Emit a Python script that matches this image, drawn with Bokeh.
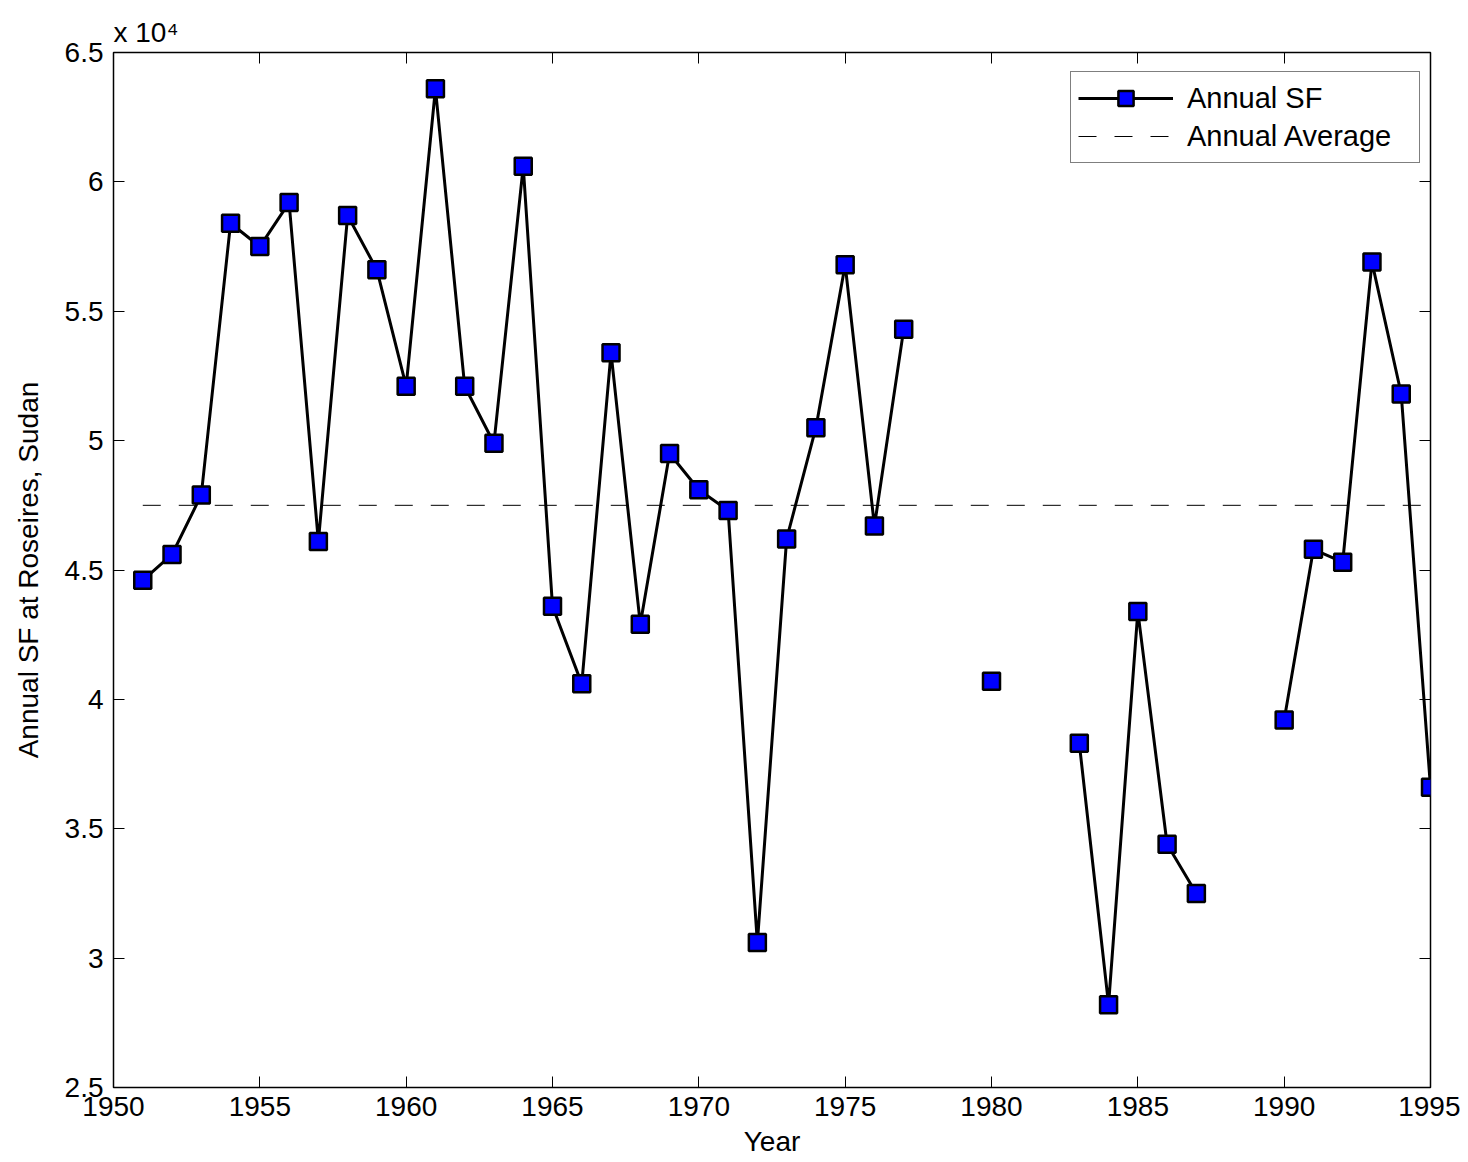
import math
from bokeh.plotting import figure
from bokeh.models import (Range1d, FixedTicker, LinearAxis, CustomJSTickFormatter,
                          Legend, LegendItem)
from bokeh.embed import file_html
from bokeh.resources import INLINE

nan = float("nan")

# ---- data ----
years = list(range(1951, 1996))
annual_sf = [44600, 45600, 47900, 58400, 57500, 59200, 46100, 58700, 56600, 52100,
             63600, 52100, 49900, 60600, 43600, 40600, 53400, 42900, 49500, 48100,
             47300, 30600, 46200, 50500, 56800, 46700, 54300, nan, nan, 40700,
             nan, nan, 38300, 28200, 43400, 34400, 32500, nan, nan, 39200,
             45800, 45300, 56900, 51800, 36600]
annual_average = 47500
avg_years = [1951, 1995]
avg_values = [annual_average, annual_average]

x_ticks = [1950, 1955, 1960, 1965, 1970, 1975, 1980, 1985, 1990, 1995]
y_ticks = [25000, 30000, 35000, 40000, 45000, 50000, 55000, 60000, 65000]

FONT = "Liberation Sans"
FS = "28px"

p = figure(width=1460, height=1160, output_backend="svg", toolbar_location=None,
           x_range=Range1d(1950, 1995), y_range=Range1d(25000, 65000),
           min_border_left=113, min_border_right=30, min_border_top=52, min_border_bottom=73)
p.background_fill_color = "white"
p.border_fill_color = "white"
p.outline_line_color = "black"
p.outline_line_width = 1.5
p.grid.visible = False

p.title.text = "x 10\u2074"
p.title.align = "left"
p.title.text_font = FONT
p.title.text_font_size = FS
p.title.text_font_style = "normal"
p.title.text_color = "black"
p.title.standoff = 10
p.title.offset = 0

yfmt = CustomJSTickFormatter(code="return String(Math.round(tick/1000)/10);")
blank = CustomJSTickFormatter(code="return '';")

for ax, tk, fmt in ((p.xaxis[0], x_ticks, None), (p.yaxis[0], y_ticks, yfmt)):
    ax.ticker = FixedTicker(ticks=tk)
    if fmt is not None:
        ax.formatter = fmt
    ax.major_tick_in = 11
    ax.major_tick_out = 0
    ax.minor_tick_in = 0
    ax.minor_tick_out = 0
    ax.major_tick_line_color = "black"
    ax.major_tick_line_width = 1
    ax.axis_line_color = None
    ax.major_label_text_font = FONT
    ax.major_label_text_font_size = FS
    ax.major_label_text_color = "black"
    ax.axis_label_text_font = FONT
    ax.axis_label_text_font_size = FS
    ax.axis_label_text_font_style = "normal"
    ax.axis_label_text_color = "black"

p.xaxis[0].axis_label = "Year"
p.xaxis[0].major_label_standoff = 9
p.xaxis[0].axis_label_standoff = 7
p.yaxis[0].axis_label = "Annual SF at Roseires, Sudan"
p.yaxis[0].major_label_standoff = 10
p.yaxis[0].axis_label_standoff = 18

top_ax = LinearAxis(ticker=FixedTicker(ticks=x_ticks), formatter=blank,
                    major_tick_in=11, major_tick_out=0, minor_tick_in=0, minor_tick_out=0,
                    axis_line_color=None, major_label_text_font_size="0px",
                    major_label_standoff=0, major_tick_line_color="black")
right_ax = LinearAxis(ticker=FixedTicker(ticks=y_ticks), formatter=blank,
                      major_tick_in=11, major_tick_out=0, minor_tick_in=0, minor_tick_out=0,
                      axis_line_color=None, major_label_text_font_size="0px",
                      major_label_standoff=0, major_tick_line_color="black")
p.add_layout(top_ax, "above")
p.add_layout(right_ax, "right")

avg_r = p.line(avg_years, avg_values, line_color="black", line_width=1, line_dash="18 18")
ln = p.line(years, annual_sf, line_color="black", line_width=3)
sc = p.scatter(years, annual_sf, marker="square", size=17, fill_color="#0000ff",
               line_color="black", line_width=2.5)

legend = Legend(items=[LegendItem(label="Annual SF", renderers=[ln, sc]),
                       LegendItem(label="Annual Average", renderers=[avg_r])],
                location=(957, 924), padding=7, spacing=0, margin=0,
                glyph_width=95, glyph_height=38, label_height=38, label_width=225,
                label_standoff=14, label_text_font=FONT, label_text_font_size="29px",
                label_text_color="black", border_line_color="black",
                border_line_width=1.5, background_fill_color="white",
                background_fill_alpha=1.0)
p.add_layout(legend)

open("out.html", "w").write(file_html(p, INLINE))
